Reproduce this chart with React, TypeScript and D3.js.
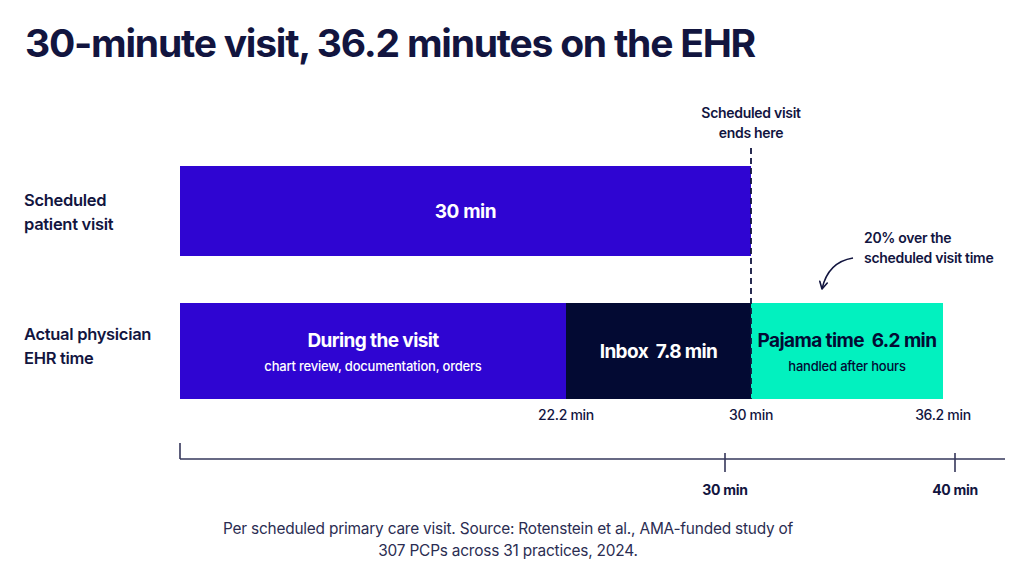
import React from "react";
import * as d3 from "d3";

// ---- data ----
const rowLabels = [
  ["Scheduled", "patient visit"],
  ["Actual physician", "EHR time"],
];
const scheduledMinutes = [30];
const segmentNames = ["During the visit", "Inbox", "Pajama time"];
const segmentMinutes = [22.2, 7.8, 6.2];
const segmentNotes = ["chart review, documentation, orders", "", "handled after hours"];
const axisTickValues = [30, 40];

const title = "30-minute visit, 36.2 minutes on the EHR";
const markerLines = ["Scheduled visit", "ends here"];
const calloutLines = ["20% over the", "scheduled visit time"];
const footnoteLines = [
  "Per scheduled primary care visit. Source: Rotenstein et al., AMA-funded study of",
  "307 PCPs across 31 practices, 2024.",
];

// ---- style ----
const W = 1024;
const H = 576;
const FONT = "Inter, 'Noto Sans', sans-serif";
const INK = "#12153f";
const BLUE = "#2f05d2";
const NAVY = "#030a33";
const TEAL = "#02f1bf";

const round1 = (v: number) => Math.round(v * 10) / 10;
const fmt = (v: number) => {
  const r = round1(v);
  return Number.isInteger(r) ? `${r}` : r.toFixed(1);
};

export default function App() {
  // cumulative segment boundaries
  const ends: number[] = Array.from(d3.cumsum(segmentMinutes), round1);
  const starts = [0, ...ends.slice(0, -1)];
  const bounds = [0, ...ends];

  // the bars use a piecewise scale, one stretch per segment
  const x = d3.scaleLinear().domain(bounds).range([180, 566, 751, 943]);
  // the reference axis below
  const xAxis = d3.scaleLinear().domain([30, 40]).range([725, 955]);

  const bar1 = { y: 166, h: 90 };
  const bar2 = { y: 303, h: 96 };
  const segFill = [BLUE, NAVY, TEAL];
  const segText = ["#ffffff", "#ffffff", NAVY];

  const sched = scheduledMinutes[0];
  const xs = x(sched);

  // callout arrow
  const arrowStart: [number, number] = [853, 258];
  const arrowCtrl: [number, number] = [828, 262];
  const arrowTip: [number, number] = [822, 289];
  const ang = Math.atan2(arrowTip[1] - arrowCtrl[1], arrowTip[0] - arrowCtrl[0]);
  const head = 8;
  const wing = (d: number): [number, number] => [
    arrowTip[0] - head * Math.cos(ang + d),
    arrowTip[1] - head * Math.sin(ang + d),
  ];
  const w1 = wing(0.5);
  const w2 = wing(-0.5);

  const axisY = 459;

  return (
    <svg
      width={W}
      height={H}
      viewBox={`0 0 ${W} ${H}`}
      style={{ position: "absolute", left: 0, top: 0, background: "#ffffff" }}
      fontFamily={FONT}
    >
      <text x={25} y={57} fontSize={38} fontWeight={700} fill={INK} letterSpacing={-1.2} textLength={730} lengthAdjust="spacingAndGlyphs">
        {title}
      </text>

      {/* row labels */}
      {rowLabels.map((lines, i) => (
        <text key={i} x={24} y={i === 0 ? 206 : 340} fontSize={16.5} fontWeight={600} fill={INK} letterSpacing={-0.3}>
          {lines.map((l, j) => (
            <tspan key={j} x={24} dy={j === 0 ? 0 : 24}>
              {l}
            </tspan>
          ))}
        </text>
      ))}

      {/* scheduled visit bar */}
      <rect x={x(0)} y={bar1.y} width={xs - x(0)} height={bar1.h} fill={BLUE} />
      <text x={(x(0) + xs) / 2} y={bar1.y + bar1.h / 2 + 7} textAnchor="middle" fontSize={19} fontWeight={700} fill="#ffffff" letterSpacing={-0.4}>
        {`${fmt(sched)} min`}
      </text>

      {/* actual EHR time segments */}
      {segmentNames.map((name, i) => {
        const x0 = x(starts[i]);
        const x1 = x(ends[i]);
        const cx = (x0 + x1) / 2;
        const note = segmentNotes[i];
        const label = i === 0 ? name : `${name}\u00A0\u00A0${fmt(segmentMinutes[i])} min`;
        const ly = note ? bar2.y + 44 : bar2.y + 55;
        return (
          <g key={name}>
            <rect x={x0} y={bar2.y} width={x1 - x0} height={bar2.h} fill={segFill[i]} />
            <text x={cx} y={ly} textAnchor="middle" fontSize={19} fontWeight={700} fill={segText[i]} letterSpacing={-0.6}>
              {label}
            </text>
            {note && (
              <text x={cx} y={bar2.y + 68} textAnchor="middle" fontSize={13} fontWeight={500} fill={segText[i]} letterSpacing={-0.2}>
                {note}
              </text>
            )}
          </g>
        );
      })}

      {/* boundary labels under the segments */}
      {ends.map((v, i) => (
        <text key={i} x={x(v)} y={420} textAnchor="middle" fontSize={14} fontWeight={500} fill={INK} letterSpacing={-0.3}>
          {`${fmt(v)} min`}
        </text>
      ))}

      {/* end of scheduled visit */}
      <line x1={xs} x2={xs} y1={148} y2={bar2.y + bar2.h} stroke={INK} strokeWidth={1.8} strokeDasharray="6,4" />
      <text textAnchor="middle" fontSize={14} fontWeight={600} fill={INK} letterSpacing={-0.3}>
        {markerLines.map((l, j) => (
          <tspan key={j} x={xs} y={118 + j * 20}>
            {l}
          </tspan>
        ))}
      </text>

      {/* callout */}
      <text fontSize={14} fontWeight={600} fill={INK} letterSpacing={-0.3}>
        {calloutLines.map((l, j) => (
          <tspan key={j} x={864} y={243 + j * 20}>
            {l}
          </tspan>
        ))}
      </text>
      <path
        d={`M${arrowStart[0]},${arrowStart[1]} Q${arrowCtrl[0]},${arrowCtrl[1]} ${arrowTip[0]},${arrowTip[1]}`}
        fill="none"
        stroke={INK}
        strokeWidth={1.6}
      />
      <path
        d={`M${w1[0]},${w1[1]} L${arrowTip[0]},${arrowTip[1]} L${w2[0]},${w2[1]}`}
        fill="none"
        stroke={INK}
        strokeWidth={1.6}
        strokeLinecap="round"
        strokeLinejoin="round"
      />

      {/* bottom axis */}
      <g stroke={INK} strokeWidth={1.6} opacity={0.85}>
        <line x1={180} x2={1005} y1={axisY} y2={axisY} />
        <line x1={180} x2={180} y1={axisY - 16} y2={axisY} />
        {axisTickValues.map((t) => (
          <line key={t} x1={xAxis(t)} x2={xAxis(t)} y1={axisY - 6} y2={axisY + 13} />
        ))}
      </g>
      {axisTickValues.map((t) => (
        <text key={t} x={xAxis(t)} y={495} textAnchor="middle" fontSize={14} fontWeight={700} fill={INK} letterSpacing={-0.3}>
          {`${t} min`}
        </text>
      ))}

      {/* footnote */}
      <text textAnchor="middle" fontSize={15.4} fontWeight={400} fill="#2b2d52" letterSpacing={-0.2}>
        {footnoteLines.map((l, j) => (
          <tspan key={j} x={508} y={534 + j * 22}>
            {l}
          </tspan>
        ))}
      </text>
    </svg>
  );
}
